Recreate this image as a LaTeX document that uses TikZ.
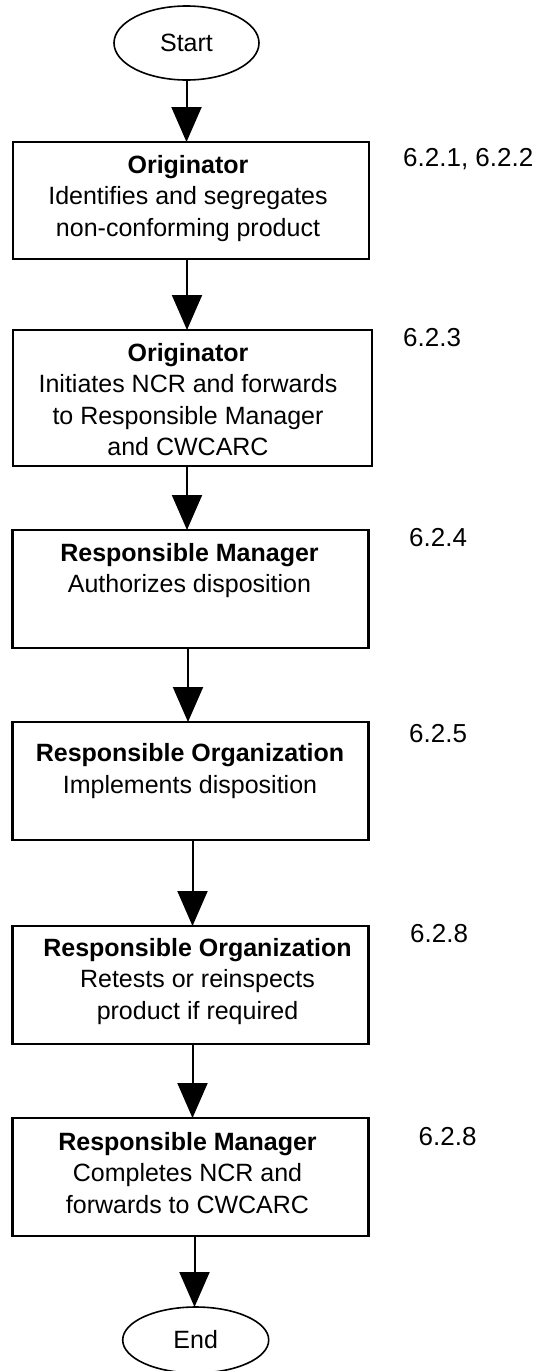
\documentclass[tikz,border=0pt]{standalone}
\usepackage{fontspec}
\setmainfont{Liberation Sans}
\usetikzlibrary{arrows.meta,shapes.geometric}
\begin{document}
\begin{tikzpicture}[x=1pt,y=-1pt,
  box/.style={draw, line width=2.2pt, minimum width=356pt, inner sep=0pt, outer sep=0pt},
  term/.style={draw, ellipse, line width=1.6pt, inner sep=0pt, outer sep=0pt, font=\fontsize{25}{30}\selectfont},
  txt/.style={align=center, inner sep=0pt, anchor=north, font=\fontsize{25}{31.5}\selectfont},
  reflabel/.style={anchor=base west, inner sep=0pt, font=\fontsize{26}{31}\selectfont},
  arr/.style={line width=2pt, -{Triangle[length=35pt,width=30pt]}}]
\useasboundingbox (0,0) rectangle (538,1371);

% terminals
\node[term, minimum width=145pt, minimum height=74pt] (st) at (186.5,43) {Start};
\node[term, minimum width=146pt, minimum height=66pt] (en) at (195.7,1340) {End};

% boxes
\node[box, minimum height=117pt] (b1) at (191,200.5) {};
\node[box, minimum width=359pt, minimum height=136pt] (b2) at (192.4,398) {};
\node[box, minimum height=118pt] (b3) at (190.5,589) {};
\node[box, minimum height=118pt] (b4) at (190.5,781) {};
\node[box, minimum height=118pt] (b5) at (190.5,985) {};
\node[box, minimum height=118pt] (b6) at (190.5,1177) {};

% box texts
\node[txt] (t1) at ([xshift=-3pt,yshift=-9pt]b1.north) {\strut\textbf{Originator}\\Identifies and segregates\\non-conforming product};
\node[txt] (t2) at ([xshift=-4.4pt,yshift=-9pt]b2.north) {\strut\textbf{Originator}\\Initiates NCR and forwards\\to Responsible Manager\\and CWCARC};
\node[txt] (t3) at ([xshift=-1pt,yshift=-9pt]b3.north) {\strut\textbf{Responsible Manager}\\Authorizes disposition};
\node[txt] (t4) at ([xshift=-0.5pt,yshift=-17.6pt]b4.north) {\strut\textbf{Responsible Organization}\\Implements disposition};
\node[txt] (t5) at ([xshift=7pt,yshift=-8pt]b5.north) {\strut\textbf{Responsible Organization}\\Retests or reinspects\\product if required};
\node[txt] (t6) at ([xshift=-3pt,yshift=-10pt]b6.north) {\strut\textbf{Responsible Manager}\\Completes NCR and\\forwards to CWCARC};

% reference labels
\node[reflabel] (l1) at (403,166) {6.2.1, 6.2.2};
\node[reflabel] (l2) at (403,346) {6.2.3};
\node[reflabel] (l3) at (409,546) {6.2.4};
\node[reflabel] (l4) at (409,742) {6.2.5};
\node[reflabel] (l5) at (410,942) {6.2.8};
\node[reflabel] (l6) at (418.5,1145) {6.2.8};

% connectors
\draw[arr] (st.south) -- (st.south |- b1.north);
\draw[arr] ([xshift=-4pt]b1.south) -- ([xshift=-4pt]b1.south |- b2.north);
\draw[arr] ([xshift=-5.4pt]b2.south) -- ([xshift=-5.4pt]b2.south |- b3.north);
\draw[arr] ([xshift=-2.5pt]b3.south) -- ([xshift=-2.5pt]b3.south |- b4.north);
\draw[arr] ([xshift=2pt]b4.south) -- ([xshift=2pt]b4.south |- b5.north);
\draw[arr] ([xshift=2pt]b5.south) -- ([xshift=2pt]b5.south |- b6.north);
\draw[arr] ([xshift=4pt]b6.south) -- ([xshift=4pt]b6.south |- en.north);
\end{tikzpicture}
\end{document}
